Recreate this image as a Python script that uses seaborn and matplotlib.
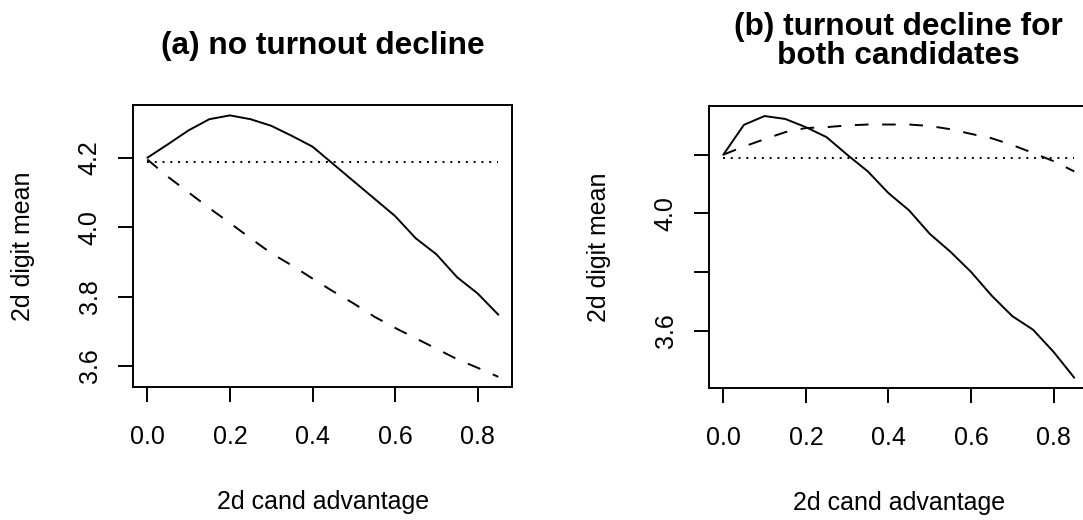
import numpy as np
import pandas as pd
import matplotlib
matplotlib.use("Agg")
import matplotlib.pyplot as plt
import seaborn as sns

# Second-candidate advantage grid
advantage = [0.00, 0.05, 0.10, 0.15, 0.20, 0.25, 0.30, 0.35, 0.40,
             0.45, 0.50, 0.55, 0.60, 0.65, 0.70, 0.75, 0.80, 0.85]

# (a) no turnout decline
a_solid = [4.200, 4.239, 4.279, 4.311, 4.322, 4.311, 4.292, 4.263, 4.232,
           4.182, 4.132, 4.082, 4.032, 3.968, 3.922, 3.856, 3.809, 3.748]
a_dashed = [4.195, 4.145, 4.100, 4.055, 4.012, 3.968, 3.925, 3.890, 3.852,
            3.815, 3.780, 3.742, 3.710, 3.680, 3.650, 3.620, 3.595, 3.569]
a_dotted = [4.189] * len(advantage)

# (b) turnout decline for both candidates
b_solid = [4.200, 4.302, 4.332, 4.322, 4.294, 4.260, 4.200, 4.143, 4.069,
           4.010, 3.930, 3.869, 3.800, 3.719, 3.649, 3.603, 3.527, 3.439]
b_dashed = [4.200, 4.228, 4.253, 4.277, 4.291, 4.294, 4.300, 4.303, 4.303,
            4.303, 4.298, 4.287, 4.271, 4.256, 4.233, 4.206, 4.178, 4.143]
b_dotted = [4.188] * len(advantage)

x_ticks = [0.0, 0.2, 0.4, 0.6, 0.8]
x_ticklabels = ["0.0", "0.2", "0.4", "0.6", "0.8"]
y_ticks = [3.6, 3.8, 4.0, 4.2]
a_yticklabels = ["3.6", "3.8", "4.0", "4.2"]
b_yticklabels = ["3.6", "", "4.0", ""]

titles = ["(a) no turnout decline", "(b) turnout decline for\nboth candidates"]
x_label = "2d cand advantage"
y_label = "2d digit mean"

sns.set_theme(style="ticks")
plt.rcParams["font.family"] = ["Liberation Sans", "DejaVu Sans"]
plt.rcParams.update({
    "text.color": "black",
    "axes.labelcolor": "black",
    "axes.titlecolor": "black",
    "xtick.color": "black",
    "ytick.color": "black",
})

LW = 1.4
fig = plt.figure(figsize=(10.83, 5.2), dpi=100)
ax_a = fig.add_axes([0.1231, 0.2552, 0.3500, 0.5430])
ax_b = fig.add_axes([0.6549, 0.2535, 0.3500, 0.5435])

panels = [
    (ax_a, a_solid, a_dashed, a_dotted, a_yticklabels, titles[0], 1.207),
    (ax_b, b_solid, b_dashed, b_dotted, b_yticklabels, titles[1], 1.226),
]

for ax, solid, dashed, dotted, ylabels, title, ty in panels:
    df = pd.DataFrame({"adv": advantage, "solid": solid,
                       "dashed": dashed, "dotted": dotted})
    sns.lineplot(data=df, x="adv", y="solid", ax=ax, color="black",
                 linewidth=LW, linestyle="-")
    sns.lineplot(data=df, x="adv", y="dashed", ax=ax, color="black",
                 linewidth=LW, linestyle=(0, (7, 7)))
    sns.lineplot(data=df, x="adv", y="dotted", ax=ax, color="black",
                 linewidth=LW, linestyle=(0, (1, 3)))

    lo = min(min(solid), min(dashed))
    hi = max(max(solid), max(dashed))
    pad = 0.04 * (hi - lo)
    ax.set_ylim(lo - pad, hi + pad)
    ax.set_xlim(-0.034, 0.884)

    ax.set_xticks(x_ticks)
    ax.set_xticklabels(x_ticklabels)
    ax.set_yticks(y_ticks)
    ax.set_yticklabels(ylabels, rotation=90, va="center")

    ax.tick_params(direction="out", length=10.8, width=LW, colors="black",
                   labelsize=18)
    ax.tick_params(axis="x", pad=16.5)
    ax.tick_params(axis="y", pad=12)
    for sp in ax.spines.values():
        sp.set_visible(True)
        sp.set_linewidth(LW)
        sp.set_color("black")

    ax.set_xlabel(x_label, fontsize=18, va="center", color="black")
    ax.xaxis.set_label_coords(0.5, -0.405)
    ax.set_ylabel(y_label, fontsize=18, va="center", color="black")
    ax.yaxis.set_label_coords(-0.291, 0.5)

    ax.set_title(title, fontsize=22.8, fontweight="bold", y=ty, va="center",
                 linespacing=0.95, pad=0, color="black")

fig.savefig("out.png", dpi=100)
